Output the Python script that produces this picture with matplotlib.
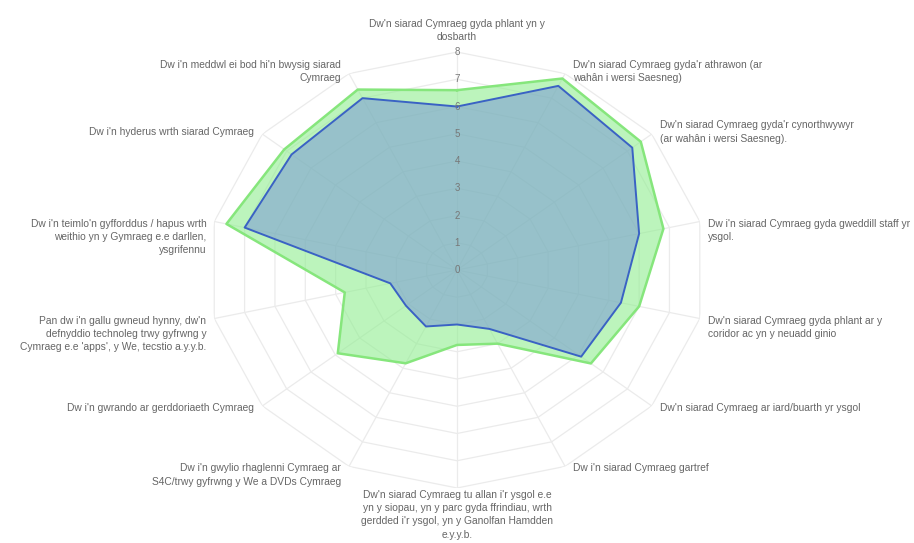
import numpy as np
import matplotlib.pyplot as plt

# radar chart - welsh language survey, two groups
labels = [
    "Dw'n siarad Cymraeg gyda phlant yn y\ndosbarth",
    "Dw'n siarad Cymraeg gyda'r athrawon (ar\nwahân i wersi Saesneg)",
    "Dw'n siarad Cymraeg gyda'r cynorthwywyr\n(ar wahân i wersi Saesneg).",
    "Dw i'n siarad Cymraeg gyda gweddill staff yr\nysgol.",
    "Dw'n siarad Cymraeg gyda phlant ar y\ncoridor ac yn y neuadd ginio",
    "Dw'n siarad Cymraeg ar iard/buarth yr ysgol",
    "Dw i'n siarad Cymraeg gartref",
    "Dw'n siarad Cymraeg tu allan i'r ysgol e.e\nyn y siopau, yn y parc gyda ffrindiau, wrth\n"
    "gerdded i'r ysgol, yn y Ganolfan Hamdden\ne.y.y.b.",
    "Dw i'n gwylio rhaglenni Cymraeg ar\nS4C/trwy gyfrwng y We a DVDs Cymraeg",
    "Dw i'n gwrando ar gerddoriaeth Cymraeg",
    "Pan dw i'n gallu gwneud hynny, dw'n\ndefnyddio technoleg trwy gyfrwng y\n"
    "Cymraeg e.e 'apps', y We, tecstio a.y.y.b.",
    "Dw i'n teimlo'n gyfforddus / hapus wrth\nweithio yn y Gymraeg e.e darllen,\nysgrifennu",
    "Dw i'n hyderus wrth siarad Cymraeg",
    "Dw i'n meddwl ei bod hi'n bwysig siarad\nCymraeg",
]
green_vals = [6.6, 7.8, 7.55, 6.8, 6.0, 5.5, 3.0, 2.75, 3.8, 4.9, 3.7, 7.6, 7.1, 7.35]
blue_vals = [6.0, 7.5, 7.2, 6.0, 5.4, 5.1, 2.4, 2.0, 2.3, 2.1, 2.2, 7.0, 6.8, 7.0]
ticks = [0, 1, 2, 3, 4, 5, 6, 7, 8]

plt.rcParams['font.family'] = ['Liberation Sans', 'DejaVu Sans']

n = len(labels)
angles = np.linspace(0, 2*np.pi, n, endpoint=False)
closed = np.append(angles, angles[0])

fig = plt.figure(figsize=(9.14, 5.43), dpi=100)
ax = fig.add_axes([0.2276, 0.1013, 0.5449, 0.8029], projection='polar')
ax.set_aspect('auto')
ax.set_theta_zero_location('N')
ax.set_theta_direction(-1)
ax.set_ylim(0, ticks[-1])
ax.set_axis_off()

grid_c = '#ebebeb'
for t in ticks[1:]:
    ax.plot(closed, [t]*len(closed), color=grid_c, lw=0.9, zorder=1)
for a in angles:
    ax.plot([a, a], [0, ticks[-1]], color=grid_c, lw=0.9, zorder=1)

gv = np.append(green_vals, green_vals[0])
bv = np.append(blue_vals, blue_vals[0])
ax.fill(closed, gv, color='#90ee90', alpha=0.6, lw=0, zorder=2)
ax.plot(closed, gv, color='#86e67c', lw=1.8, zorder=3)
ax.fill(closed, bv, color='#7490d8', alpha=0.5, lw=0, zorder=4)
ax.plot(closed, bv, color='#3a62c4', lw=1.4, zorder=5)

for t in ticks:
    ax.text(0, t, str(t), ha='center', va='center', fontsize=7,
            color='#777777', zorder=6)

px = 0.72  # pixels -> points
for a, lab in zip(angles, labels):
    s, c = np.sin(a), np.cos(a)
    if abs(s) < 0.05:
        ha = 'center'
        dx = 0
    elif s > 0:
        ha = 'left'
        dx = 8
    else:
        ha = 'right'
        dx = -8
    if abs(s) < 0.05 and c > 0:
        va, dy = 'bottom', 10
    elif abs(s) < 0.05:
        va, dy = 'top', -2
    elif c > 0.5:
        va, dy = 'center', 2
    else:
        va, dy = 'top', 3
    ax.annotate(lab, xy=(a, ticks[-1]), xytext=(dx*px, dy*px),
                textcoords='offset points', ha=ha, va=va, fontsize=7.4,
                color='#666666', linespacing=1.4,
                multialignment=ha if ha != 'center' else 'center',
                annotation_clip=False)

fig.savefig('out.png', dpi=100, facecolor='white')
